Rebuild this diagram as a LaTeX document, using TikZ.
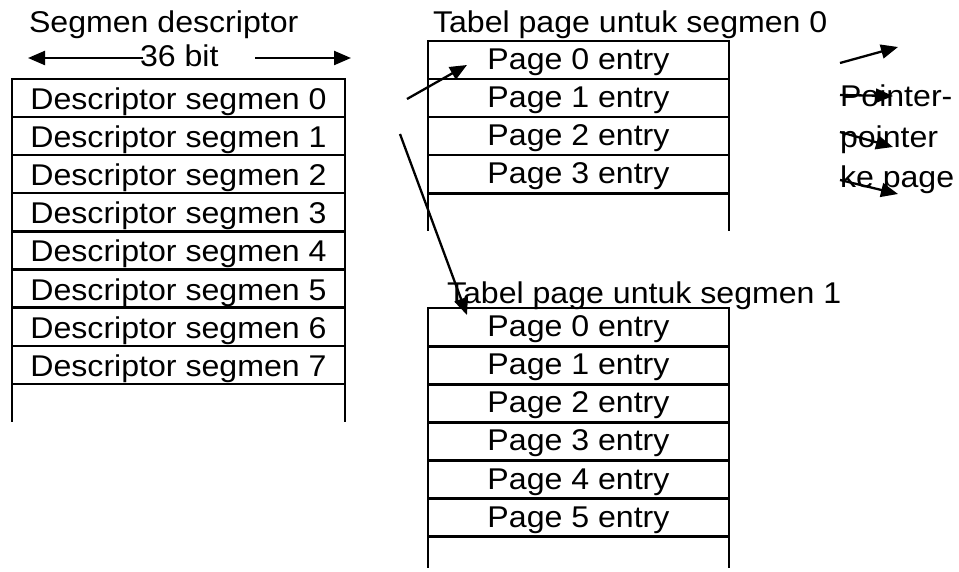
\documentclass[tikz,border=0pt]{standalone}
\usepackage{fontspec}
\setmainfont{Liberation Sans}[FakeStretch=1.07]
\usetikzlibrary{arrows.meta}

\begin{document}
\begin{tikzpicture}[x=1pt,y=-1pt, line width=2.3pt,
  every node/.style={font=\fontsize{30}{40}\selectfont, inner sep=0pt, outer sep=0pt},
  desc/.style={draw, minimum width=333pt, minimum height=38.1pt, text height=27pt, text depth=4pt},
  entry/.style={draw, minimum width=301pt, minimum height=38.1pt, text height=25pt, text depth=6pt},
  label/.style={anchor=base west},
  ptr/.style={-{Triangle[length=17pt,width=14pt]}},
  ]
\useasboundingbox (0,0) rectangle (959,572);

% segment descriptor table
\node[label] (hdesc) at (29,33) {Segmen descriptor};
\node[label] (bits) at (140,67) {36 bit};
\coordinate (wl) at (143,58);
\coordinate (wlend) at (28,58);
\coordinate (wr) at (255,58);
\coordinate (wrend) at (351,58);
\draw[ptr] (wl) -- (wlend);
\draw[ptr] (wr) -- (wrend);
\foreach \i in {0,...,7}
  \node[desc] (d\i) at (178.5,{98.05+38.1*\i}) {Descriptor segmen \i};
\draw (d7.south west) -- ++(0,38);
\draw (d7.south east) -- ++(0,38);

% page table for segment 0
\node[label] (h0) at (433,33) {Tabel page untuk segmen 0};
\foreach \i in {0,...,3}
  \node[entry] (a\i) at (578.5,{59.8+38.2*\i}) {Page \i\ entry};
\draw (a3.south west) -- ++(0,37.5);
\draw (a3.south east) -- ++(0,37.5);

% page table for segment 1
\node[label] (h1) at (447,303) {Tabel page untuk segmen 1};
\foreach \i in {0,...,5}
  \node[entry] (b\i) at (578.5,{327.3+38.05*\i}) {Page \i\ entry};
\draw (b5.south west) -- ++(0,31.5);
\draw (b5.south east) -- ++(0,31.5);

% pointers from descriptors to page tables
\coordinate (s0) at (407,99);
\coordinate (t0) at (467,65);
\coordinate (s1) at (400,134);
\coordinate (t1) at (467,315);
\draw[ptr] (s0) -- (t0);
\draw[ptr] (s1) -- (t1);

% pointers to pages
\node[label] (pa) at (840,107) {Pointer-};
\node[label] (pb) at (840,148) {pointer};
\node[label] (pc) at (840,188) {ke page};
\coordinate (q0) at (840,63);  \coordinate (r0) at (898,47);
\coordinate (q1) at (840,95);  \coordinate (r1) at (893,96);
\coordinate (q2) at (840,132); \coordinate (r2) at (893,147);
\coordinate (q3) at (840,180); \coordinate (r3) at (898,194);
\draw[ptr] (q0) -- (r0);
\draw[ptr] (q1) -- (r1);
\draw[ptr] (q2) -- (r2);
\draw[ptr] (q3) -- (r3);
\end{tikzpicture}
\end{document}
